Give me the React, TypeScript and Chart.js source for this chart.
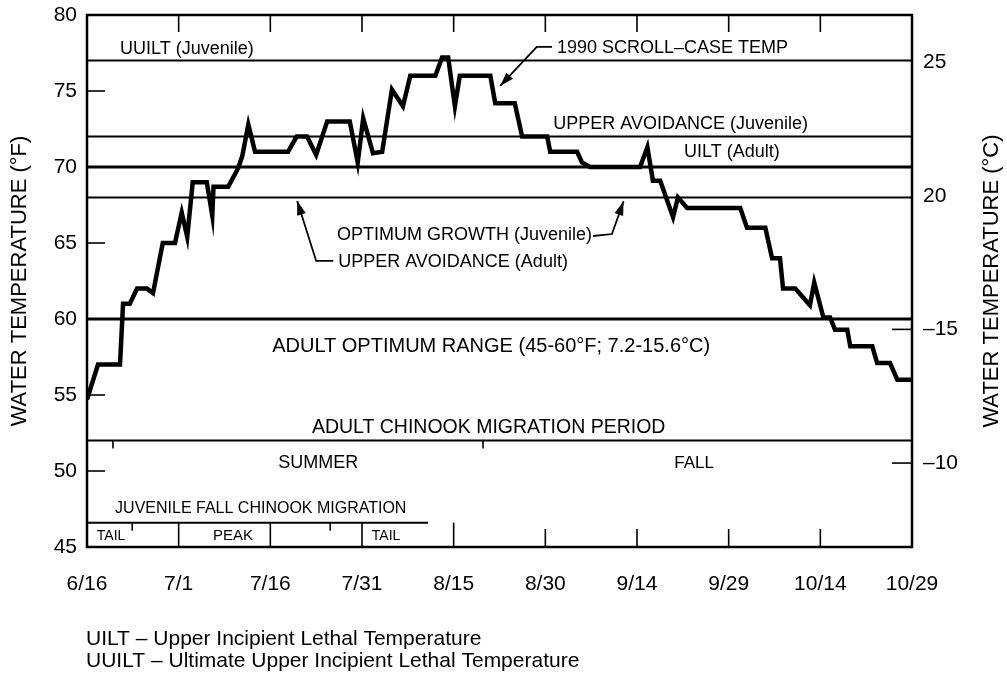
import React, { useEffect, useRef } from "react";
import { Chart, registerables } from "chart.js";
Chart.register(...registerables);

// ---------- data ----------
const dayTicks = [0, 15, 30, 45, 60, 75, 90, 105, 120, 135];
const dateLabels = ["6/16", "7/1", "7/16", "7/31", "8/15", "8/30", "9/14", "9/29", "10/14", "10/29"];
const fahrenheitTicks = [45, 50, 55, 60, 65, 70, 75, 80];
const celsiusTicks = [10, 15, 20, 25];
const celsiusLabels = ["–10", "–15", "20", "25"];

// 1990 scroll-case temperature (days after 6/16, °F)
const scrollDays = [0, 1.8, 5.4, 5.9, 7.0, 8.2, 9.8, 10.8, 12.4, 14.4, 15.5, 16.4, 17.3, 19.6, 20.5, 20.7, 23.1, 24.7, 25.4, 26.4, 27.5, 32.9, 34.3, 36, 37.5, 39.3, 43, 44.3, 45.2, 46.8, 48.3, 49.9, 51.7, 52.9, 57, 58.1, 59.1, 60.2, 61, 66, 66.8, 70, 71.2, 75.3, 75.8, 80.2, 81, 82.3, 90.5, 91.7, 92.6, 93.8, 95.9, 96.7, 98.2, 106.9, 108, 111, 112.1, 113.4, 113.9, 115.9, 118.3, 119, 120.5, 121.6, 122.4, 124.4, 124.9, 128.5, 129.3, 131.4, 132.6, 135];
const scrollTemps = [54.7, 57, 57, 61, 61, 62, 62, 61.7, 65, 65, 67, 65.4, 69, 69, 66.8, 68.7, 68.7, 69.9, 70.7, 72.8, 71, 71, 72, 72, 70.8, 73, 73, 70.3, 73.2, 70.9, 71, 75.1, 74, 76, 76, 77.2, 77.2, 74, 76, 76, 74.2, 74.2, 72, 72, 71, 71, 70.3, 70, 70, 71.3, 69.1, 69.1, 66.7, 68, 67.3, 67.3, 66, 66, 64, 64, 62, 62, 60.9, 62.4, 60.1, 60.1, 59.3, 59.3, 58.2, 58.2, 57.1, 57.1, 56, 56];

// criteria lines (°F): UUILT juv, upper avoidance juv, UILT adult, optimum growth juv, adult optimum max, migration band
const refLevels = [77, 72, 70, 68, 60, 52];
const juvenileLevel = 46.6;
const juvenileEndDay = 55.8;

// small marks
const topTickDays = [15, 30, 45, 60, 75, 90, 105, 120];
const bottomTickDays = [75, 90, 105, 120];
const dividerDays = [15, 30, 45, 60];
const juvenileMarkDays = [7.4, 39.8];
const migrationMarkDays = [4.25, 64.8];

// ---------- styles / annotation layout ----------
const refWidths = [2, 2, 3, 2, 3, 2];
const FONT = '"Liberation Sans", Arial, Helvetica, sans-serif';

const labels = [
  { text: "UUILT (Juvenile)", day: 5.4, temp: 77.76, size: 18 },
  { text: "1990 SCROLL–CASE TEMP", day: 76.9, temp: 77.83, size: 18 },
  { text: "UPPER AVOIDANCE (Juvenile)", day: 76.3, temp: 72.83, size: 18 },
  { text: "UILT (Adult)", day: 97.7, temp: 70.99, size: 18 },
  { text: "OPTIMUM GROWTH (Juvenile)", day: 40.9, temp: 65.53, size: 18 },
  { text: "UPPER AVOIDANCE (Adult)", day: 41.1, temp: 63.75, size: 18 },
  { text: "ADULT OPTIMUM RANGE (45-60°F; 7.2-15.6°C)", day: 30.3, temp: 58.16, size: 20 },
  { text: "ADULT CHINOOK MIGRATION PERIOD", day: 36.8, temp: 52.83, size: 19.5 },
  { text: "SUMMER", day: 31.3, temp: 50.53, size: 18 },
  { text: "FALL", day: 96.1, temp: 50.53, size: 17 },
  { text: "JUVENILE FALL CHINOOK MIGRATION", day: 4.6, temp: 47.5, size: 16 },
  { text: "TAIL", day: 1.6, temp: 45.72, size: 14 },
  { text: "PEAK", day: 20.6, temp: 45.72, size: 15 },
  { text: "TAIL", day: 46.6, temp: 45.72, size: 14 },
];

const leaders = [
  [[76.1, 77.9], [73.6, 77.9], [67.6, 75.33]],
  [[82.8, 65.46], [85.9, 65.59], [87.8, 67.74]],
  [[40.3, 63.82], [37.5, 63.82], [34.4, 67.76]],
];

const footnotes = [
  "UILT – Upper Incipient Lethal Temperature",
  "UUILT – Ultimate Upper Incipient Lethal Temperature",
];

const overlay = {
  id: "overlay",
  afterDraw(chart: any) {
    const { ctx, chartArea: a, scales } = chart;
    const X = (v: number) => scales.x.getPixelForValue(v);
    const Y = (v: number) => scales.y.getPixelForValue(v);
    const C = (v: number) => scales.y1.getPixelForValue(v);
    ctx.save();
    ctx.strokeStyle = "#000";
    ctx.fillStyle = "#000";
    ctx.lineCap = "butt";
    const seg = (x1: number, y1: number, x2: number, y2: number) => {
      ctx.beginPath();
      ctx.moveTo(x1, y1);
      ctx.lineTo(x2, y2);
      ctx.stroke();
    };
    // frame
    ctx.lineWidth = 2.5;
    ctx.strokeRect(a.left, a.top, a.right - a.left, a.bottom - a.top);
    // ticks
    ctx.lineWidth = 1.6;
    fahrenheitTicks.slice(1, -1).forEach((v) => seg(a.left, Y(v), a.left + 18, Y(v)));
    celsiusTicks.slice(0, 2).forEach((v) => seg(a.right, C(v), a.right - 20, C(v)));
    topTickDays.forEach((d) => seg(X(d), a.top, X(d), a.top + 17));
    bottomTickDays.forEach((d) => seg(X(d), a.bottom, X(d), a.bottom - 18));
    dividerDays.forEach((d) => seg(X(d), a.bottom, X(d), Y(juvenileLevel)));
    juvenileMarkDays.forEach((d) => seg(X(d), Y(juvenileLevel), X(d), Y(juvenileLevel) + 8));
    migrationMarkDays.forEach((d) => seg(X(d), Y(52), X(d), Y(52) + 8));

    // leaders with arrowheads
    ctx.lineWidth = 1.8;
    leaders.forEach((pts) => {
      const p = pts.map(([d, t]) => [X(d), Y(t)]);
      ctx.beginPath();
      ctx.moveTo(p[0][0], p[0][1]);
      for (let i = 1; i < p.length; i++) ctx.lineTo(p[i][0], p[i][1]);
      ctx.stroke();
      const [x2, y2] = p[p.length - 1];
      const [x1, y1] = p[p.length - 2];
      const ang = Math.atan2(y2 - y1, x2 - x1);
      const L = 14, W = 4.5;
      ctx.beginPath();
      ctx.moveTo(x2, y2);
      ctx.lineTo(x2 - L * Math.cos(ang) + W * Math.sin(ang), y2 - L * Math.sin(ang) - W * Math.cos(ang));
      ctx.lineTo(x2 - L * Math.cos(ang) - W * Math.sin(ang), y2 - L * Math.sin(ang) + W * Math.cos(ang));
      ctx.closePath();
      ctx.fill();
    });

    // labels
    ctx.textAlign = "left";
    ctx.textBaseline = "middle";
    labels.forEach((l) => {
      ctx.font = `${l.size}px ${FONT}`;
      ctx.fillText(l.text, X(l.day), Y(l.temp));
    });

    // right axis title (reads bottom-to-top)
    ctx.save();
    ctx.translate(992, (a.top + a.bottom) / 2);
    ctx.rotate(-Math.PI / 2);
    ctx.textAlign = "center";
    ctx.font = `22px ${FONT}`;
    ctx.fillText("WATER TEMPERATURE (°C)", 0, 0);
    ctx.restore();

    // footnotes
    ctx.textAlign = "left";
    ctx.textBaseline = "alphabetic";
    ctx.font = `21px ${FONT}`;
    ctx.fillText(footnotes[0], 86, 645);
    ctx.fillText(footnotes[1], 86, 667);
    ctx.restore();
  },
};

const zeroPad = (s: any) => {
  s.paddingTop = 0;
  s.paddingBottom = 0;
  s.paddingLeft = 0;
  s.paddingRight = 0;
};

export default function App() {
  const ref = useRef<HTMLCanvasElement>(null);
  useEffect(() => {
    if (!ref.current) return;
    Chart.defaults.font.family = FONT;
    Chart.defaults.color = "#000";
    const refSets = refLevels.map((lv, i) => ({
      data: [{ x: 0, y: lv }, { x: 135, y: lv }],
      borderColor: "#000",
      borderWidth: refWidths[i],
      pointRadius: 0,
      yAxisID: "y",
    }));
    const chart = new Chart(ref.current, {
      type: "line",
      data: {
        datasets: [
          {
            data: scrollDays.map((d, i) => ({ x: d, y: scrollTemps[i] })),
            borderColor: "#000",
            borderWidth: 4.5,
            borderJoinStyle: "miter",
            pointRadius: 0,
            tension: 0,
            yAxisID: "y",
          },
          ...refSets,
          {
            data: [{ x: 0, y: juvenileLevel }, { x: juvenileEndDay, y: juvenileLevel }],
            borderColor: "#000",
            borderWidth: 2,
            pointRadius: 0,
            yAxisID: "y",
          },
        ] as any,
      },
      options: {
        animation: false,
        responsive: false,
        events: [],
        layout: { padding: { top: 15, left: 0, right: 0, bottom: 0 } },
        plugins: { legend: { display: false }, tooltip: { enabled: false } },
        scales: {
          x: {
            type: "linear",
            min: 0,
            max: 135,
            grid: { display: false, drawTicks: false },
            border: { display: false },
            afterBuildTicks: (s: any) => { s.ticks = dayTicks.map((v) => ({ value: v })); },
            afterFit: (s: any) => { s.height = 130; zeroPad(s); },
            ticks: {
              autoSkip: false,
              maxRotation: 0,
              padding: 25,
              font: { size: 21 },
              callback: (v: any) => dateLabels[dayTicks.indexOf(Number(v))] ?? "",
            },
          },
          y: {
            type: "linear",
            position: "left",
            min: 45,
            max: 80,
            grid: { display: false, drawTicks: false },
            border: { display: false },
            afterBuildTicks: (s: any) => { s.ticks = fahrenheitTicks.map((v) => ({ value: v })); },
            afterFit: (s: any) => { s.width = 87; zeroPad(s); },
            ticks: { padding: 10, font: { size: 21 } },
            title: {
              display: true,
              text: "WATER TEMPERATURE (°F)",
              font: { size: 22 },
              padding: { top: 7, bottom: 0 },
            },
          },
          y1: {
            type: "linear",
            position: "right",
            min: 6.86,
            max: 26.76,
            grid: { display: false, drawTicks: false },
            border: { display: false },
            afterBuildTicks: (s: any) => { s.ticks = celsiusTicks.map((v) => ({ value: v })); },
            afterFit: (s: any) => { s.width = 95; zeroPad(s); },
            ticks: {
              padding: 11,
              font: { size: 21 },
              callback: (v: any) => celsiusLabels[celsiusTicks.indexOf(Number(v))] ?? "",
            },
          },
        },
      },
      plugins: [overlay],
    });
    return () => chart.destroy();
  }, []);
  return (
    <div style={{ position: "absolute", left: 0, top: 0, width: 1007, height: 677, background: "#fff" }}>
      <canvas ref={ref} width={1007} height={677} style={{ width: 1007, height: 677, display: "block" }} />
    </div>
  );
}
